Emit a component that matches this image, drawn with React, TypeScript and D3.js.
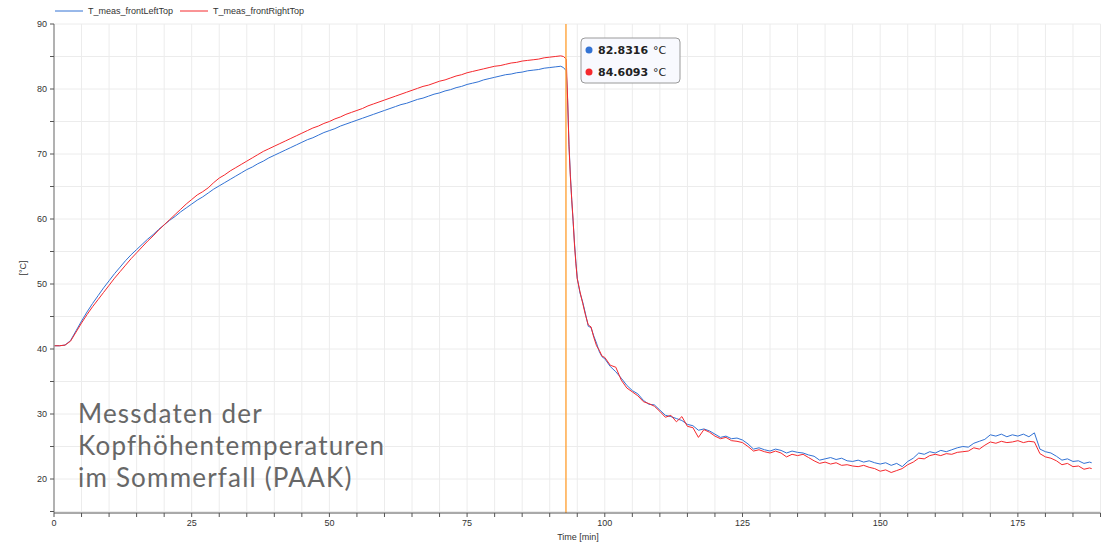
import React from 'react';
import * as d3 from 'd3';

// time axis [min]: warm-up at 1 min steps, then denser around the door opening
const riseTimes = [
  0, 1, 2, 3, 4, 5, 6, 7, 8, 9,
  10, 11, 12, 13, 14, 15, 16, 17, 18, 19,
  20, 21, 22, 23, 24, 25, 26, 27, 28, 29,
  30, 31, 32, 33, 34, 35, 36, 37, 38, 39,
  40, 41, 42, 43, 44, 45, 46, 47, 48, 49,
  50, 51, 52, 53, 54, 55, 56, 57, 58, 59,
  60, 61, 62, 63, 64, 65, 66, 67, 68, 69,
  70, 71, 72, 73, 74, 75, 76, 77, 78, 79,
  80, 81, 82, 83, 84, 85, 86, 87, 88, 89,
  90, 91, 92,
];
const dropTimes = [92.5, 93, 93.25, 93.5, 93.75, 94, 94.25, 94.5, 94.75, 95, 95.5, 96, 96.5, 97, 97.5, 98, 98.5, 99, 99.5, 100];
const tailTimes = [
  101, 102, 103, 104, 105, 106, 107, 108, 109, 110,
  111, 112, 113, 114, 115, 116, 117, 118, 119, 120,
  121, 122, 123, 124, 125, 126, 127, 128, 129, 130,
  131, 132, 133, 134, 135, 136, 137, 138, 139, 140,
  141, 142, 143, 144, 145, 146, 147, 148, 149, 150,
  151, 152, 153, 154, 155, 156, 157, 158, 159, 160,
  161, 162, 163, 164, 165, 166, 167, 168, 169, 170,
  171, 172, 173, 174, 175, 176, 177, 178, 179, 180,
  181, 182, 183, 184, 185, 186, 187, 188, 188.4,
];

const leftRise = [
  40.5, 40.5, 40.6, 41.3, 42.8, 44.3, 45.7, 47.0, 48.2, 49.4,
  50.5, 51.6, 52.6, 53.6, 54.5, 55.3, 56.1, 56.9, 57.6, 58.4,
  59.1, 59.8, 60.4, 61.1, 61.7, 62.3, 62.9, 63.4, 64.0, 64.6,
  65.1, 65.6, 66.1, 66.6, 67.1, 67.6, 68.0, 68.5, 68.9, 69.4,
  69.8, 70.2, 70.6, 71.0, 71.4, 71.8, 72.2, 72.5, 72.9, 73.3,
  73.6, 73.9, 74.3, 74.6, 74.9, 75.2, 75.5, 75.8, 76.1, 76.4,
  76.7, 77.0, 77.3, 77.6, 77.8, 78.1, 78.4, 78.6, 78.9, 79.2,
  79.4, 79.7, 79.9, 80.2, 80.4, 80.7, 80.9, 81.1, 81.4, 81.6,
  81.8, 82.0, 82.2, 82.3, 82.5, 82.6, 82.8, 82.9, 83.0, 83.2,
  83.3, 83.4, 83.5,
];
const leftDrop = [83.3, 82.8, 78.3, 71.5, 66.8, 62.9, 59.6, 56.3, 53.4, 50.9, 48.6, 47.2, 45.4, 43.5, 43.3, 42.0, 40.9, 39.6, 38.8, 38.5];
const leftTail = [
  37.3, 36.5, 35.5, 34.4, 33.6, 33.1, 32.1, 31.5, 31.4, 30.6,
  29.8, 29.6, 29.3, 29.0, 28.4, 28.2, 27.5, 27.7, 27.4, 26.9,
  26.4, 26.6, 26.2, 26.3, 26.0, 25.4, 24.6, 24.8, 24.5, 24.3,
  24.6, 24.4, 24.0, 24.3, 24.1, 24.0, 23.7, 23.5, 22.9, 23.1,
  23.3, 23.0, 23.2, 22.8, 22.7, 22.9, 22.6, 22.8, 22.5, 22.3,
  22.5, 22.1, 22.4, 21.9, 22.7, 23.2, 24.0, 23.8, 24.2, 24.0,
  24.4, 24.2, 24.5, 24.8, 25.0, 24.9, 25.5, 25.8, 26.1, 26.8,
  26.6, 26.9, 26.5, 26.8, 26.6, 26.9, 26.5, 27.1, 24.6, 24.2,
  24.0, 23.5, 22.9, 23.1, 22.7, 22.8, 22.4, 22.6, 22.5,
];

const rightRise = [
  40.5, 40.5, 40.6, 41.2, 42.6, 44.0, 45.3, 46.5, 47.6, 48.7,
  49.8, 50.9, 51.9, 52.9, 53.9, 54.8, 55.7, 56.6, 57.4, 58.3,
  59.1, 59.9, 60.7, 61.5, 62.3, 63.0, 63.7, 64.2, 64.8, 65.6,
  66.3, 66.8, 67.4, 67.9, 68.4, 68.9, 69.4, 69.9, 70.4, 70.8,
  71.2, 71.6, 72.0, 72.4, 72.8, 73.2, 73.6, 74.0, 74.3, 74.7,
  75.0, 75.4, 75.7, 76.1, 76.4, 76.7, 77.0, 77.4, 77.7, 78.0,
  78.3, 78.6, 78.9, 79.2, 79.5, 79.8, 80.1, 80.4, 80.6, 80.9,
  81.2, 81.4, 81.7, 82.0, 82.2, 82.5, 82.7, 82.9, 83.1, 83.3,
  83.5, 83.6, 83.8, 84.0, 84.1, 84.3, 84.4, 84.5, 84.6, 84.8,
  84.9, 85.0, 85.1,
];
const rightDrop = [85.0, 84.6, 78.5, 71.2, 66.5, 63.0, 59.8, 56.0, 53.2, 50.8, 48.8, 47.0, 45.2, 43.7, 43.4, 41.8, 40.5, 39.8, 38.9, 38.7];
const rightTail = [
  37.5, 37.2, 35.2, 34.0, 33.4, 32.8, 31.9, 31.6, 31.2, 30.4,
  29.5, 29.8, 28.8, 29.6, 28.1, 27.9, 26.4, 27.6, 27.2, 26.6,
  26.2, 26.4, 25.9, 25.8, 25.6, 25.0, 24.3, 24.5, 24.2, 24.0,
  24.3, 24.0, 23.4, 23.8, 23.6, 23.8, 23.3, 22.8, 22.4, 22.6,
  22.3, 22.5, 22.1, 22.2, 22.0, 21.9, 22.1, 21.8, 21.6, 21.2,
  21.4, 21.0, 21.3, 21.6, 22.2, 22.6, 23.2, 23.1, 23.6, 23.8,
  23.6, 23.9, 23.8, 24.1, 24.2, 24.3, 24.8, 24.6, 25.2, 25.7,
  25.5, 25.8, 25.6, 25.7, 25.9, 25.6, 25.8, 25.7, 23.9, 23.4,
  23.2, 22.8, 22.2, 22.4, 21.9, 22.0, 21.5, 21.7, 21.6,
];

const seriesNames = ['T_meas_frontLeftTop', 'T_meas_frontRightTop'];
const seriesColors = ['#3272d4', '#f5282d'];
const cursorTime = 92.95;
const cursorValues = ['82.8316', '84.6093'];
const xTicks = [0, 25, 50, 75, 100, 125, 150, 175];
const yTicks = [20, 30, 40, 50, 60, 70, 80, 90];
const noteLines = ['Messdaten der', 'Kopfhöhentemperaturen', 'im Sommerfall (PAAK)'];

const W = 1101;
const H = 543;
const font = 'Liberation Sans, Arial, sans-serif';

export default function App() {
  const x = d3.scaleLinear().domain([0, 190]).range([54, 1100.5]);
  const y = d3.scaleLinear().domain([14.77, 90]).range([513, 24]);

  const times = [...riseTimes, ...dropTimes, ...tailTimes];
  const series = [
    [...leftRise, ...leftDrop, ...leftTail],
    [...rightRise, ...rightDrop, ...rightTail],
  ];

  const line = d3.line<number>()
    .x((_, i) => x(times[i]))
    .y((d) => y(d));

  const minorX = d3.range(0, 191, 5);
  const minorY = d3.range(15, 91, 5);
  const [x0, x1] = x.range();
  const yBot = y(14.77);
  const yTop = y(90);
  const cx = x(cursorTime);

  return (
    <svg width={W} height={H} style={{ position: 'absolute', left: 0, top: 0, background: '#fff' }}>
      {/* grid */}
      <g stroke="#ececec" strokeWidth={1}>
        {minorX.map((t) => (
          <line key={'gx' + t} x1={x(t)} x2={x(t)} y1={yTop} y2={yBot} />
        ))}
        {minorY.map((v) => (
          <line key={'gy' + v} x1={x0} x2={x1} y1={y(v)} y2={y(v)} />
        ))}
      </g>

      {/* annotation */}
      <g fontFamily="Lato, sans-serif" fontSize={26} fill="#676767" letterSpacing={1.2}>
        {noteLines.map((s, i) => (
          <text key={s} x={78} y={423 + i * 32}>{s}</text>
        ))}
      </g>

      {/* data */}
      {series.map((vals, i) => (
        <path key={i} d={line(vals) ?? ''} fill="none" stroke={seriesColors[i]} strokeWidth={1} strokeLinejoin="round" />
      ))}

      {/* cursor */}
      <line x1={cx} x2={cx} y1={yTop} y2={yBot} stroke="#ffa43a" strokeWidth={1.4} />

      {/* axes */}
      <line x1={x0} x2={x0} y1={yTop} y2={yBot} stroke="#9a9a9a" strokeWidth={1.5} />
      <line x1={x0} x2={x1} y1={yBot} y2={yBot} stroke="#555" strokeWidth={1} />
      <g stroke="#555" strokeWidth={1}>
        {minorX.map((t) => (
          <line key={'tx' + t} x1={x(t)} x2={x(t)} y1={yBot} y2={yBot + 4} />
        ))}
        {minorY.map((v) => (
          <line key={'ty' + v} x1={x0 - 4} x2={x0} y1={y(v)} y2={y(v)} />
        ))}
      </g>
      <g fontFamily={font} fontSize={9} fill="#333">
        {xTicks.map((t) => (
          <text key={'lx' + t} x={x(t)} y={yBot + 13} textAnchor="middle">{t}</text>
        ))}
        {yTicks.map((v) => (
          <text key={'ly' + v} x={x0 - 7} y={y(v) + 3} textAnchor="end">{v}</text>
        ))}
        <text x={578} y={540} textAnchor="middle">Time [min]</text>
        <text transform="translate(26,268) rotate(-90)" textAnchor="middle">[°C]</text>
      </g>

      {/* legend */}
      <g fontFamily={font} fontSize={9} fill="#333">
        {seriesNames.map((n, i) => (
          <g key={n} transform={`translate(${55 + i * 125},11)`}>
            <line x1={0} x2={28} y1={0} y2={0} stroke={seriesColors[i]} strokeWidth={1} />
            <text x={33} y={3}>{n}</text>
          </g>
        ))}
      </g>

      {/* tooltip */}
      <g fontFamily="DejaVu Sans, sans-serif" fontSize={11} fill="#222">
        <rect x={581} y={38} width={99} height={45} rx={4} fill="#f8f9fe" stroke="#9a9a9a" strokeWidth={1} />
        {cursorValues.map((v, i) => (
          <g key={v}>
            <circle cx={589} cy={50 + i * 22} r={3.5} fill={seriesColors[i]} />
            <text x={598} y={54 + i * 22}>
              <tspan fontWeight="bold">{v}</tspan>
              <tspan dx={5}>°C</tspan>
            </text>
          </g>
        ))}
      </g>
    </svg>
  );
}
